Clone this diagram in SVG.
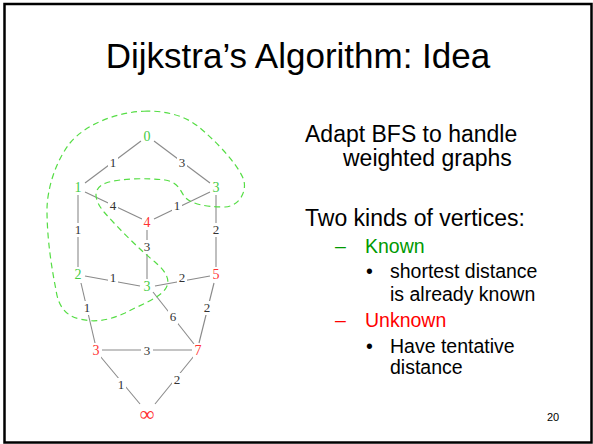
<svg xmlns="http://www.w3.org/2000/svg" width="593" height="444" viewBox="0 0 593 444">
<style>
.edge{stroke:#8a8a8a;stroke-width:1.1;fill:none}
.bg{fill:#fff}
.w{font-family:"Liberation Serif","Times New Roman",serif;font-size:13px;fill:#333;text-anchor:middle}
.n{font-family:"Liberation Serif","Times New Roman",serif;font-size:14px;text-anchor:middle}
.g{fill:#44cc44}
.r{fill:#ff3333}
.t{font-family:"Liberation Sans",Arial,sans-serif;fill:#000}
</style>
<rect x="4.5" y="4" width="587" height="438.5" fill="#fff" stroke="#000" stroke-width="2.5"/>
<text class="t" x="298" y="68" font-size="35" text-anchor="middle">Dijkstra’s Algorithm: Idea</text>

<g id="connectors">
<line class="edge" x1="141" y1="141" x2="85" y2="183"/>
<line class="edge" x1="154" y1="141" x2="210" y2="183"/>
<line class="edge" x1="85" y1="192" x2="142" y2="219"/>
<line class="edge" x1="210" y1="192" x2="154" y2="219"/>
<line class="edge" x1="78" y1="195" x2="78" y2="267"/>
<line class="edge" x1="147" y1="230" x2="147" y2="279"/>
<line class="edge" x1="216" y1="195" x2="216" y2="267"/>
<line class="edge" x1="85" y1="276" x2="140" y2="286"/>
<line class="edge" x1="155" y1="286" x2="210" y2="276"/>
<line class="edge" x1="81" y1="283" x2="95" y2="343"/>
<line class="edge" x1="153" y1="292" x2="194" y2="344"/>
<line class="edge" x1="214" y1="283" x2="199" y2="343"/>
<line class="edge" x1="102" y1="350" x2="192" y2="350"/>
<line class="edge" x1="100" y1="356" x2="140" y2="404"/>
<line class="edge" x1="194" y1="356" x2="155" y2="404"/>
<rect class="bg" x="108" y="156" width="10" height="14"/><text class="w" x="113" y="167">1</text>
<rect class="bg" x="177" y="156" width="10" height="14"/><text class="w" x="182" y="167">3</text>
<rect class="bg" x="108" y="199" width="10" height="14"/><text class="w" x="113" y="210">4</text>
<rect class="bg" x="172" y="199" width="10" height="14"/><text class="w" x="177" y="210">1</text>
<rect class="bg" x="73" y="223" width="10" height="14"/><text class="w" x="78" y="234">1</text>
<rect class="bg" x="142" y="240" width="10" height="14"/><text class="w" x="147" y="251">3</text>
<rect class="bg" x="211" y="223" width="10" height="14"/><text class="w" x="216" y="234">2</text>
<rect class="bg" x="108" y="271" width="10" height="14"/><text class="w" x="113" y="282">1</text>
<rect class="bg" x="177" y="271" width="10" height="14"/><text class="w" x="182" y="282">2</text>
<rect class="bg" x="82" y="301" width="10" height="14"/><text class="w" x="87" y="312">1</text>
<rect class="bg" x="168" y="310" width="10" height="14"/><text class="w" x="173" y="321">6</text>
<rect class="bg" x="202" y="301" width="10" height="14"/><text class="w" x="207" y="312">2</text>
<rect class="bg" x="141" y="344" width="12" height="14"/><text class="w" x="147" y="355">3</text>
<rect class="bg" x="116" y="378" width="10" height="14"/><text class="w" x="121" y="389">1</text>
<rect class="bg" x="172" y="373" width="10" height="14"/><text class="w" x="177" y="384">2</text>
</g>

<g id="known-boundary">
<path d="M147,111 C115,112 85,125 70,143 C55,162 47,190 47,210 C47,240 52,270 56,290 C58,305 65,316 80,319 C95,323 110,320 125,313 C140,305 160,298 166,288 C172,278 162,268 155,262 C140,250 118,228 104,212 C94,200 92,188 106,183 C120,178 150,178 165,180 C178,182 180,190 184,196 C190,204 205,207 225,207 C240,206 248,190 243,178 C235,160 212,138 200,128 C185,115 165,111 147,111 Z" fill="none" stroke="#55dd44" stroke-width="1.2" stroke-dasharray="6,4"/>
</g>

<g id="n0"><rect class="bg" x="142" y="130" width="10" height="14"/><text class="n g" x="147" y="141">0</text></g>
<g id="n1"><rect class="bg" x="73" y="181" width="10" height="14"/><text class="n g" x="78" y="192">1</text></g>
<g id="n3a"><rect class="bg" x="211" y="181" width="10" height="14"/><text class="n g" x="216" y="192">3</text></g>
<g id="n4"><rect class="bg" x="142" y="216" width="10" height="14"/><text class="n r" x="147" y="227">4</text></g>
<g id="n2"><rect class="bg" x="73" y="268" width="10" height="14"/><text class="n g" x="78" y="279">2</text></g>
<g id="n3b"><rect class="bg" x="142" y="280" width="10" height="14"/><text class="n g" x="147" y="291">3</text></g>
<g id="n5"><rect class="bg" x="211" y="268" width="10" height="14"/><text class="n r" x="216" y="279">5</text></g>
<g id="n3c"><rect class="bg" x="91" y="344" width="10" height="14"/><text class="n r" x="96" y="355">3</text></g>
<g id="n7"><rect class="bg" x="193" y="344" width="10" height="14"/><text class="n r" x="198" y="355">7</text></g>
<g id="ninf"><text class="n r" x="147" y="421" style="font-size:21px">∞</text></g>

<g id="text">
<text class="t" x="305" y="142" font-size="23">Adapt BFS to handle</text>
<text class="t" x="343" y="166" font-size="23">weighted graphs</text>
<text class="t" x="305" y="226" font-size="23">Two kinds of vertices:</text>
<text class="t" x="335" y="253" font-size="19.5" style="fill:#009900">–</text>
<text class="t" x="365" y="253" font-size="19.5" style="fill:#009900">Known</text>
<text class="t" x="366" y="278" font-size="19.5">•</text>
<text class="t" x="390" y="278" font-size="19.5">shortest distance</text>
<text class="t" x="390" y="301" font-size="19.5">is already known</text>
<text class="t" x="335" y="327" font-size="19.5" style="fill:#ff0000">–</text>
<text class="t" x="365" y="327" font-size="19.5" style="fill:#ff0000">Unknown</text>
<text class="t" x="366" y="353" font-size="19.5">•</text>
<text class="t" x="390" y="353" font-size="19.5">Have tentative</text>
<text class="t" x="390" y="374" font-size="19.5">distance</text>
<text class="t" x="547" y="421" font-size="11">20</text>
</g>
</svg>
